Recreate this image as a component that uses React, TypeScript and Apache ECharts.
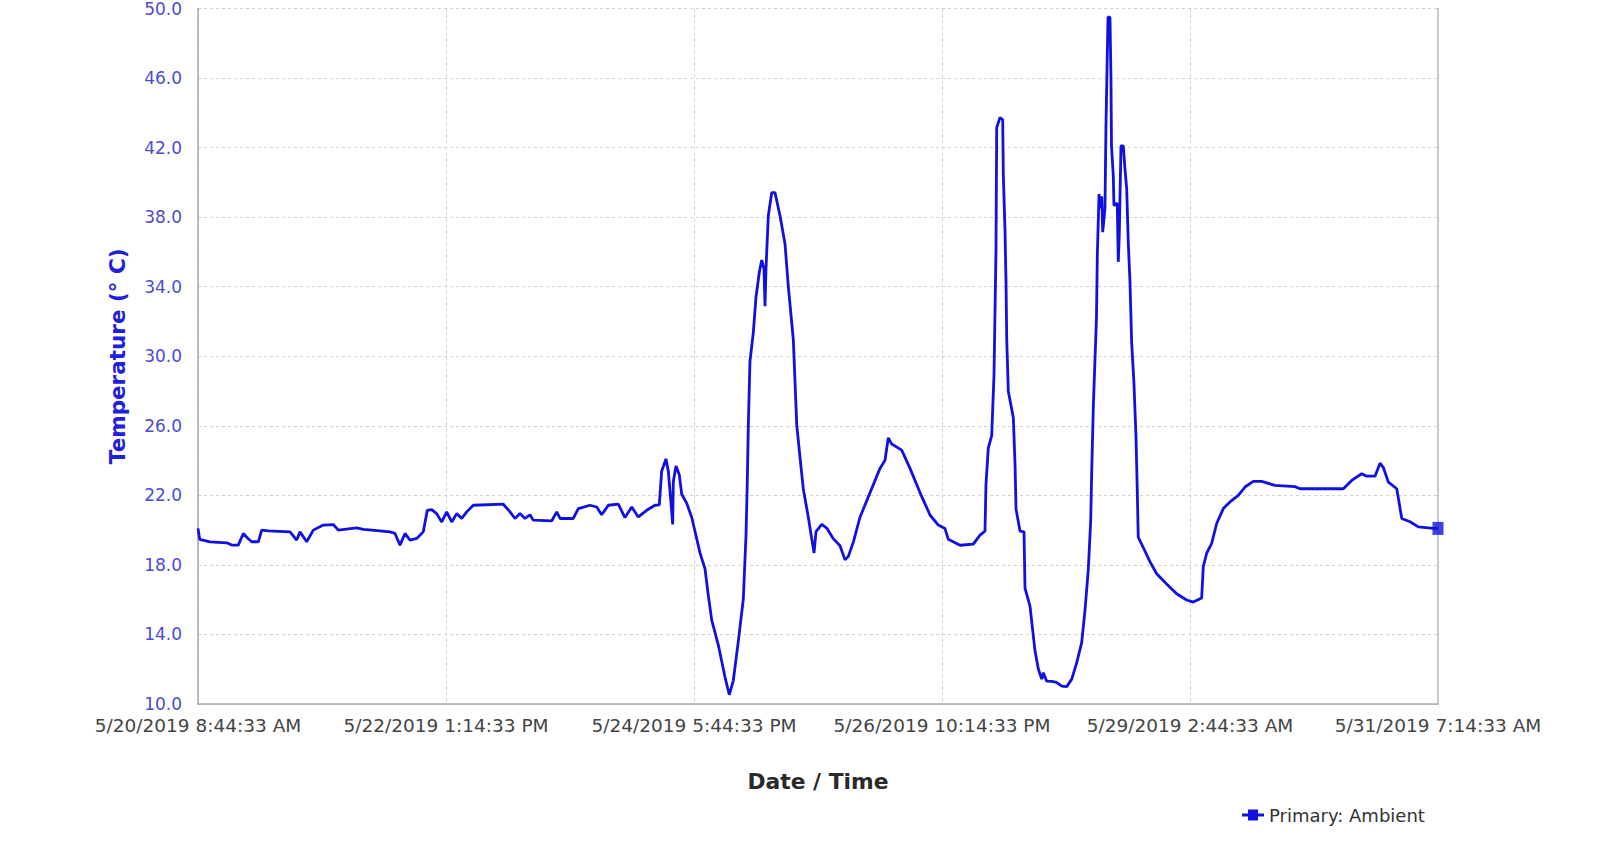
import React, { useEffect, useRef } from "react";
import * as echarts from "echarts";

// Hours elapsed since 5/20/2019 8:44:33 AM
const hours = [
  0.0, 0.36, 2.54, 6.08, 7.13, 8.53, 9.59, 10.58, 11.37, 12.77, 13.48, 14.88, 19.48, 20.89, 21.59,
  23.01, 24.41, 26.52, 28.64, 29.7, 33.6, 35.0, 36.77, 40.65, 41.7, 42.76, 43.82, 44.88, 46.3,
  47.69, 48.54, 49.47, 50.53, 51.59, 52.65, 53.7, 54.77, 55.82, 56.88, 58.28, 64.63, 66.05, 67.11,
  68.17, 69.22, 70.28, 70.98, 74.88, 75.94, 76.64, 79.45, 80.51, 82.98, 84.4, 85.46, 86.86, 88.97,
  90.39, 91.81, 93.21, 94.98, 96.74, 97.65,
  98.16, 99.07, 99.56, 100.07, 100.49, 100.62, 101.19, 101.89, 102.4, 103.45, 104.51, 105.57,
  106.27, 107.33, 108.03, 108.75, 110.15, 111.56, 112.47, 113.32, 114.38, 115.44, 116.01, 116.28,
  116.5, 116.85, 117.55, 118.12, 118.82, 119.33, 119.82, 120.03, 120.24, 120.73, 121.45, 122.15,
  123.21, 124.27, 124.97, 126.03, 126.39, 126.75, 127.44, 128.14, 129.2, 129.92, 130.41, 130.83,
  132.04, 133.1, 134.49, 135.91, 136.97, 137.67, 138.73, 140.14,
  144.37, 145.43, 146.13, 146.85, 148.97, 150.73, 152.84, 154.96, 156.72, 158.13, 158.83, 161.31,
  164.13, 165.54, 166.6, 166.81, 167.3, 168.02, 168.51, 168.93, 169.08, 169.78, 170.35, 170.48,
  170.84, 171.05, 171.2, 171.54, 172.6, 172.96, 173.17, 174.02, 174.86, 175.07, 176.13, 176.7,
  177.19, 177.89, 178.61, 178.95, 179.67, 180.73, 181.73, 182.85, 183.91, 184.97, 186.01, 187.07,
  187.77, 188.47, 188.98, 189.19, 189.53, 189.89, 190.2, 190.38, 190.74, 191.05, 191.31, 191.52,
  192.0, 192.21, 192.64, 193.06, 193.27, 193.38, 193.76, 193.9, 194.6, 194.82, 195.03, 195.39,
  195.88, 196.24, 196.6, 196.93, 197.29, 197.65, 198.13, 198.56, 198.83, 199.04, 200.1, 201.52,
  202.94, 205.05, 207.17, 209.29, 210.69, 212.47, 212.81, 213.53, 214.59, 215.65, 217.05, 218.46,
  220.22, 221.64, 223.4, 225.18, 228.0, 232.23, 233.29, 242.46, 244.24, 246.35, 247.41, 249.17,
  250.23, 250.93, 251.99, 253.77, 254.83, 256.59, 258.34, 261.52, 262.5,
];

// Ambient temperature (°C)
const temps = [
  20.1, 19.47, 19.33, 19.27, 19.14, 19.14, 19.81, 19.52, 19.33, 19.33, 20.0, 19.96, 19.9, 19.43, 19.9,
  19.33, 20.0, 20.29, 20.32, 20.0, 20.13, 20.04, 20.0, 19.9, 19.81, 19.14, 19.81, 19.43, 19.52,
  19.9, 21.14, 21.18, 20.95, 20.47, 21.05, 20.47, 20.95, 20.67, 21.05, 21.43, 21.49, 21.05, 20.67,
  20.95, 20.67, 20.88, 20.57, 20.53, 21.05, 20.67, 20.67, 21.24, 21.43, 21.33, 20.88, 21.43, 21.49,
  20.72, 21.33, 20.76, 21.14, 21.43, 21.45,
  23.39, 24.1, 23.39, 21.75, 20.33, 22.78, 23.69, 23.18, 22.06, 21.55, 20.74, 19.51,
  18.69, 17.78, 16.25, 14.82, 13.39, 11.55, 10.53, 11.35, 13.6, 16.04, 19.71, 22.78,
  26.04, 29.71, 31.35, 33.39, 34.82, 35.53, 35.02, 32.88, 35.02, 38.08, 39.41, 39.41,
  38.08, 36.45, 34.0, 30.94, 28.49, 26.04, 24.2, 22.37, 20.74, 19.51, 18.69, 19.92,
  20.33, 20.12, 19.51, 19.1, 18.29, 18.49, 19.31, 20.74,
  23.55, 24.02, 25.31, 24.95, 24.6, 23.55, 22.16, 20.87, 20.29, 20.1, 19.47, 19.13,
  19.2, 19.71, 19.94, 22.62, 24.72, 25.43, 28.92, 36.15, 43.15, 43.73, 43.6, 40.47,
  37.2, 34.29, 31.02, 27.99, 26.47, 23.79, 21.22, 19.94, 19.9, 16.67, 15.63, 14.23,
  13.06, 12.01, 11.43, 11.8, 11.31, 11.3, 11.25, 11.03, 11.0, 11.43, 12.36, 13.53,
  15.39, 17.73, 20.53, 23.32, 27.06, 29.85, 32.19, 35.8, 39.33, 38.5, 39.2, 37.14,
  38.5, 43.24, 49.5, 49.5, 45.9, 42.1, 40.38, 38.67, 38.8, 35.43, 37.0, 42.1,
  42.1, 40.76, 39.62, 36.57, 34.29, 30.8, 28.46, 25.43, 22.4, 19.6, 19.0, 18.19,
  17.49, 16.9, 16.34, 15.98, 15.86, 16.1, 17.9, 18.67, 19.24, 20.38, 21.24, 21.62,
  22.0, 22.48, 22.8, 22.8, 22.57, 22.5, 22.38, 22.38, 22.86, 23.24, 23.1, 23.1,
  23.85, 23.6, 22.76, 22.38, 20.67, 20.48, 20.19, 20.1, 20.1,
];

const yTicks = { min: 10, max: 50, step: 4 };
const xTicks = { min: 0, max: 262.5, step: 52.5 };
const startUTC = Date.UTC(2019, 4, 20, 8, 44, 33);
const seriesName = "Primary: Ambient";

function fmtDate(h: number): string {
  const d = new Date(startUTC + Math.round(h * 3600000));
  let hr = d.getUTCHours();
  const ampm = hr >= 12 ? "PM" : "AM";
  hr = hr % 12;
  if (hr === 0) hr = 12;
  const mm = String(d.getUTCMinutes()).padStart(2, "0");
  const ss = String(d.getUTCSeconds()).padStart(2, "0");
  return `${d.getUTCMonth() + 1}/${d.getUTCDate()}/${d.getUTCFullYear()} ${hr}:${mm}:${ss} ${ampm}`;
}

export default function App() {
  const ref = useRef<HTMLDivElement>(null);
  useEffect(() => {
    if (!ref.current) return;
    const chart = echarts.init(ref.current, null, { renderer: "svg" });
    const data = hours.map((h, i) => [h, temps[i]]);
    const last = data[data.length - 1];
    chart.setOption({
      animation: false,
      backgroundColor: "#ffffff",
      textStyle: { fontFamily: "DejaVu Sans" },
      grid: { left: 198, right: 177, top: 5, bottom: 144, containLabel: false },
      legend: {
        left: 1237,
        top: 801,
        itemWidth: 22,
        itemHeight: 11,
        itemGap: 10,
        data: [
          {
            name: seriesName,
            icon: "path://M0,4H22V7H0Z M6,0H16V11H6Z",
            itemStyle: { color: "#1010e0" },
          },
        ],
        textStyle: { fontSize: 18, color: "#333333", fontFamily: "DejaVu Sans" },
      },
      xAxis: {
        type: "value",
        min: xTicks.min,
        max: xTicks.max,
        interval: xTicks.step,
        name: "Date / Time",
        nameLocation: "middle",
        nameGap: 66,
        nameTextStyle: { fontSize: 21.8, fontWeight: "bold", color: "#2a2a2a", fontFamily: "DejaVu Sans" },
        axisLine: { show: true, lineStyle: { color: "#aaaaaa", width: 1.5 } },
        axisTick: { show: false },
        axisLabel: {
          formatter: (v: number) => fmtDate(v),
          fontSize: 18.5,
          color: "#444444",
          margin: 12,
          showMinLabel: true,
          showMaxLabel: true,
          fontFamily: "DejaVu Sans",
        },
        splitLine: { show: true, lineStyle: { color: "#d0d0d0", type: [3, 3] } },
      },
      yAxis: [
        {
          type: "value",
          min: yTicks.min,
          max: yTicks.max,
          interval: yTicks.step,
          name: "Temperature (° C)",
          nameLocation: "middle",
          nameGap: 70,
          nameRotate: 90,
          nameTextStyle: { fontSize: 21.5, fontWeight: "bold", color: "#2020dd", fontFamily: "DejaVu Sans" },
          axisLine: { show: true, lineStyle: { color: "#aaaaaa", width: 1.5 } },
          axisTick: { show: false },
          axisLabel: {
            formatter: (v: number) => v.toFixed(1),
            fontSize: 17,
            color: "#4b4bd3",
            margin: 16,
            fontFamily: "DejaVu Sans",
          },
          splitLine: { show: true, lineStyle: { color: "#d0d0d0", type: [3, 3] } },
        },
        {
          type: "value",
          position: "right",
          min: yTicks.min,
          max: yTicks.max,
          interval: yTicks.step,
          axisLine: { show: true, lineStyle: { color: "#bbbbbb", width: 1.5 } },
          axisTick: { show: false },
          axisLabel: { show: false },
          splitLine: { show: false },
        },
      ],
      series: [
        {
          name: seriesName,
          type: "line",
          data,
          symbol: "none",
          lineStyle: { color: "#1010e0", width: 2.8 },
          itemStyle: { color: "#1010e0" },
          z: 3,
        },
        {
          name: "end",
          type: "scatter",
          data: [last],
          symbol: "rect",
          symbolSize: [11, 13],
          itemStyle: { color: "#1010e0" },
          z: 4,
        },
      ],
    });
    return () => chart.dispose();
  }, []);
  return (
    <div
      ref={ref}
      style={{ position: "absolute", left: 0, top: 0, width: 1615, height: 848, background: "#fff" }}
    />
  );
}
